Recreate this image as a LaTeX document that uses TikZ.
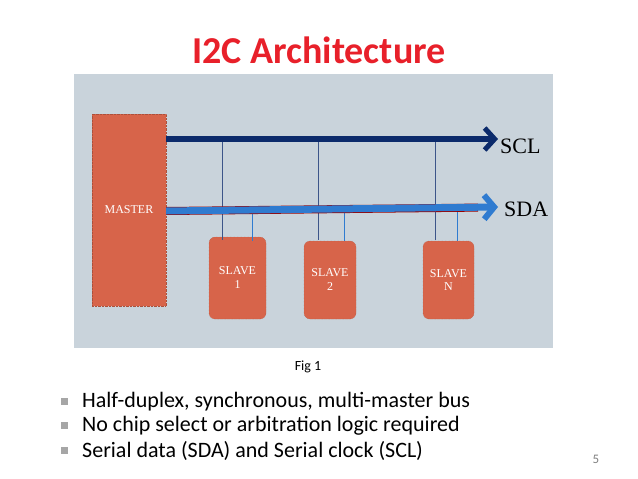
\documentclass[tikz,border=0pt]{standalone}
\usepackage{fontspec}
\setmainfont{Carlito}
\newfontfamily\serif{Liberation Serif}
\usetikzlibrary{arrows.meta}
\definecolor{titlered}{HTML}{E8202A}
\definecolor{panel}{HTML}{C9D3DB}
\definecolor{box}{HTML}{D7644A}
\definecolor{scl}{HTML}{0B2A6B}
\definecolor{sda}{HTML}{2F7BD0}
\begin{document}
\begin{tikzpicture}[x=1pt,y=-1pt,
  dev/.style={fill=box,draw=box!80!black,densely dotted,text=white,font=\serif\fontsize{12}{13}\selectfont,align=center,inner sep=0},
  drop/.style={draw=scl!80,line width=0.8pt},
  dropa/.style={draw=sda,line width=0.8pt},
  bul/.style={anchor=west,font=\fontsize{22}{26}\selectfont,inner sep=0}]
\useasboundingbox[fill=white] (0,0) rectangle (638,479);
\node[text=titlered,font=\bfseries\fontsize{38}{44}\selectfont] (title) at (319,50) {I2C Architecture};
\fill[panel] (74,74) rectangle (553,348);
\node[dev,minimum width=74,minimum height=192] (master) at (129,210) {MASTER};
\node[dev,rounded corners=6,minimum width=57,minimum height=82] (s1) at (237.5,278) {SLAVE\\[1pt]1};
\node[dev,rounded corners=6,minimum width=52,minimum height=78] (s2) at (330,280) {SLAVE\\[1pt]2};
\node[dev,rounded corners=6,minimum width=51,minimum height=78] (sn) at (448.5,280) {SLAVE\\N};
\coordinate (sclend) at (498,139);
\coordinate (sdaend) at (498,207);
\node[anchor=west,font=\serif\fontsize{22}{24}\selectfont,inner sep=0] (scll) at (500,146) {SCL};
\node[anchor=west,font=\serif\fontsize{22}{24}\selectfont,inner sep=0] (sdal) at (504,209) {SDA};
\foreach \x in {222,318,435} \draw[drop] (\x,139) -- (\x,240);
\foreach \x in {252,344,457} \draw[dropa] (\x,210) -- (\x,241);
\draw[scl,line width=6pt,-{Straight Barb[length=10pt,width=22pt,line width=5pt]}] (master.east |- sclend) -- (sclend);
\draw[draw=red!60!black,line width=8pt] (master.east |- 0,211) -- (478,207.6);
\draw[sda,line width=7pt,-{Straight Barb[length=10pt,width=24pt,line width=6pt]}] (master.east |- 0,211) -- (sdaend);
\node[font=\fontsize{14}{16}\selectfont] (fig) at (308,367) {Fig 1};
\foreach \y/\t/\n in {402/{Half-duplex, synchronous, multi-master bus}/b1,426/{No chip select or arbitration logic required}/b2,451/{Serial data (SDA) and Serial clock (SCL)}/b3}{
  \fill[gray!70] (61,\y-4) rectangle (68,\y+3);
  \node[bul] (\n) at (82,\y) {\t};}
\node[font=\fontsize{13}{15}\selectfont,text=gray] (pg) at (596,459) {5};
\end{tikzpicture}
\end{document}
